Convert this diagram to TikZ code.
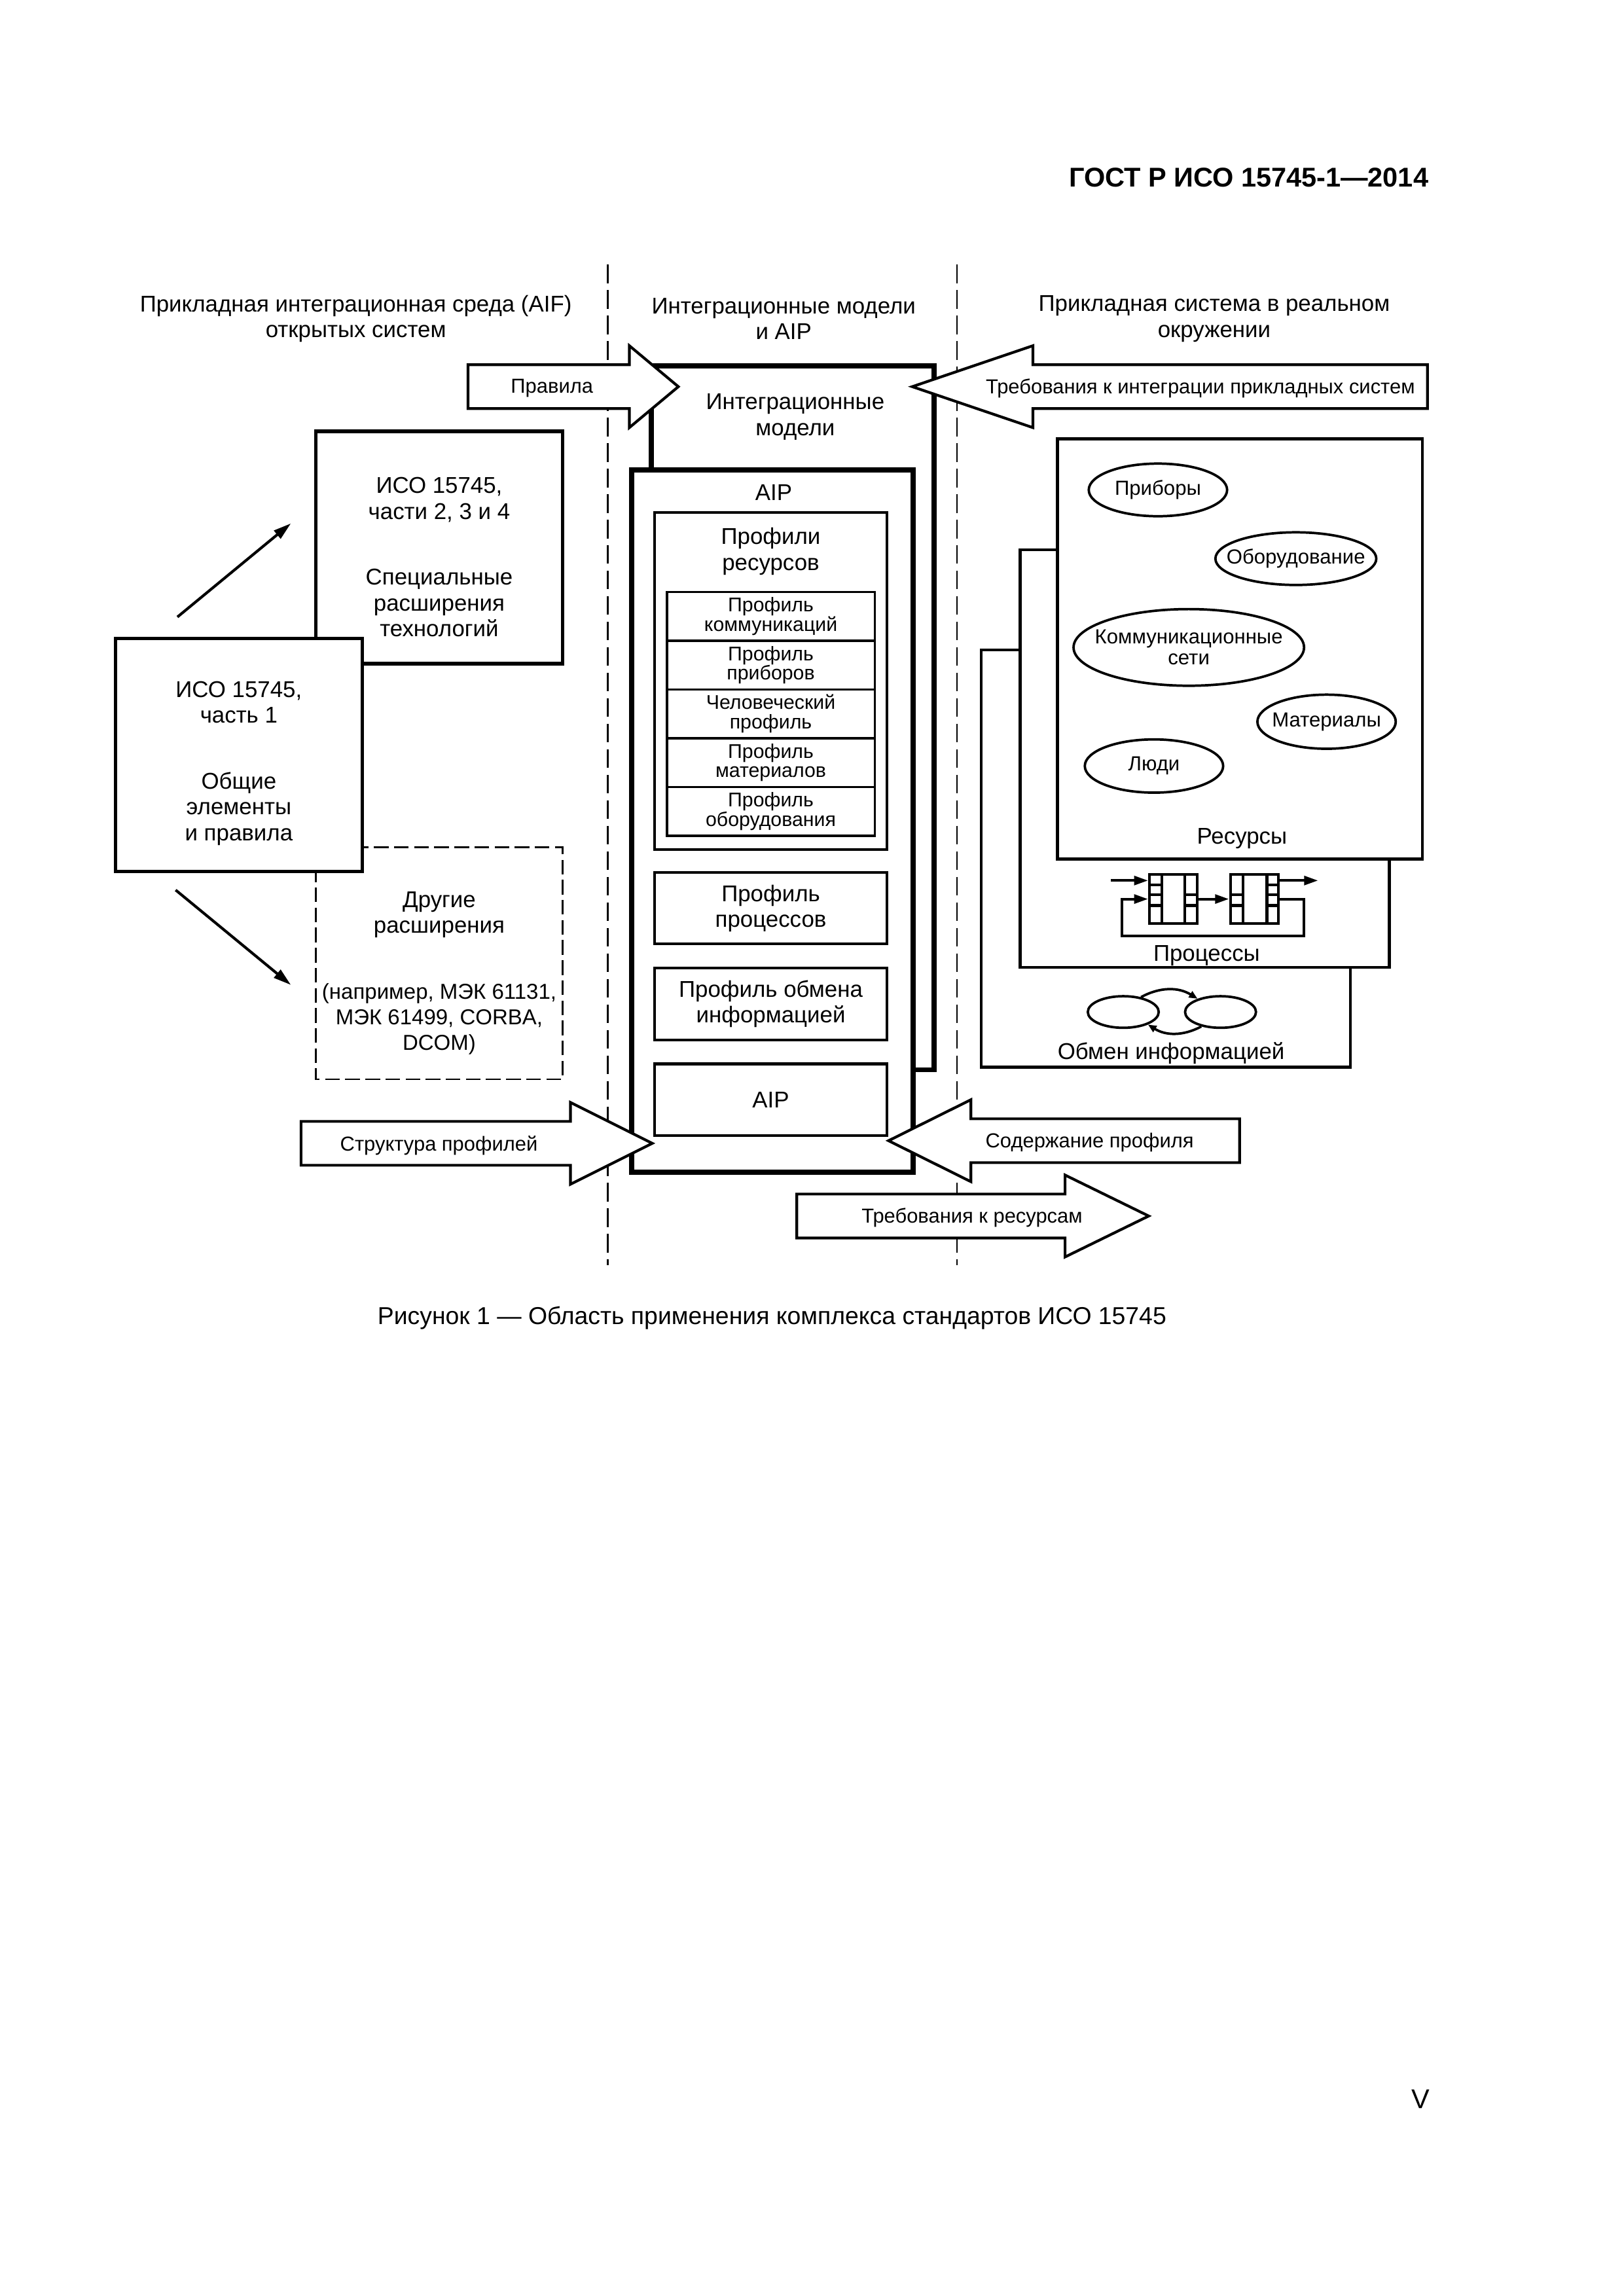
\documentclass[tikz,border=0pt]{standalone}
\usepackage{fontspec}
\setmainfont{Liberation Sans}
\usetikzlibrary{arrows.meta,shapes.geometric}
\newcommand{\ux}{0.18919mm}
\def\fatarrow(#1:#2:#3:#4){\draw[fatarr] (#1,#4-15) -- (#2,#4-15) -- (#2,#4-28) -- (#3,#4) -- (#2,#4+28) -- (#2,#4+15) -- (#1,#4+15) -- cycle;}

\begin{document}
\begin{tikzpicture}[x=\ux, y=-\ux,
		txt/.style={align=center, inner sep=0pt, font=\fontsize{8.4}{9.5}\selectfont},
		arrtxt/.style={inner sep=0pt, font=\fontsize{7.45}{9}\selectfont},
		sz/.style 2 args={minimum width=#1*\ux, minimum height=#2*\ux},
		lbox/.style={line width=1.3pt, fill=white},
		dbox/.style={line width=0.7pt, dash pattern=on 1.9mm off 0.7mm},
		thickbox/.style={line width=1.9pt, fill=white},
		pbox/.style={draw, line width=1pt, fill=white, inner sep=0pt, align=center, font=\fontsize{8.4}{9.5}\selectfont},
		cell/.style={draw, line width=0.8pt, inner sep=0pt, align=center, font=\fontsize{7.3}{7.2}\selectfont},
		rbox/.style={line width=1.1pt, fill=white},
		res/.style={draw, ellipse, line width=0.9pt, inner sep=-6pt, align=center, font=\fontsize{7.5}{7.6}\selectfont},
		blk/.style={draw, line width=1pt, inner sep=0pt, sz={32.8}{33.5}},
		fatarr/.style={line width=1pt, fill=white, line join=miter},
		diag/.style={line width=1pt, -{Triangle[length=2.3mm,width=1.3mm]}},
		parr/.style={line width=1pt, -{Triangle[length=1.8mm,width=1.15mm]}},
		xarr/.style={line width=0.9pt, -{Triangle[length=1.1mm,width=0.9mm]}},
		sep/.style={line width=0.6pt, dash pattern=on 2.4mm off 0.9mm}]
	%%%%% START %%%%%
	\useasboundingbox (0,0) rectangle (1110,1570);
	
	\node[anchor=east, inner sep=0pt, font=\bfseries\fontsize{10}{12}\selectfont] (gost) at (977,121.6) {ГОСТ Р ИСО 15745-1—2014};
	
	% column separators and headings
	\draw[sep] (415.5,181) -- (415.5,865);
	\draw[sep] (654.4,181) -- (654.4,865);
	\node[txt] (hleft) at (243.3,218) {Прикладная интеграционная среда (AIF)\\открытых систем};
	\node[txt] (hmid) at (535.8,218) {Интеграционные модели\\и AIP};
	\node[txt] (hright) at (830.2,218) {Прикладная система в реальном\\окружении};
	
	% left column
	\draw[dbox] (216,579.4) rectangle (384.6,738);
	\node[txt] (other) at (300.3,665.5) {Другие\\расширения\\[14.7pt]{\fontsize{7.95}{9.5}\selectfont(например, МЭК 61131,}\\{\fontsize{7.95}{9.5}\selectfont МЭК 61499, CORBA,}\\{\fontsize{7.95}{9.5}\selectfont DCOM)}};
	\draw[lbox] (216,295) rectangle (384.6,453.9);
	\node[txt] (spec) at (300.3,381) {ИСО 15745,\\части 2, 3 и 4\\[14.7pt]Специальные\\расширения\\технологий};
	\draw[lbox] (79,436.7) rectangle (247.6,596);
	\node[txt] (iso1) at (163.3,522) {ИСО 15745,\\часть 1\\[14.7pt]Общие\\элементы\\и правила};
	
	\coordinate (up0) at (121.3,421.9);
	\coordinate (up1) at (198.9,357.9);
	\coordinate (dn0) at (120.1,608.6);
	\coordinate (dn1) at (198.9,673.5);
	\draw[diag] (up0) -- (up1);
	\draw[diag] (dn0) -- (dn1);
	
	% middle column
	\draw[thickbox] (445.5,250) rectangle (638.5,731.5);
	\node[txt] (intmod) at (543.7,285) {Интеграционные\\модели};
	\draw[thickbox] (432,321.4) rectangle (624.5,801.5);
	\node[txt] (aiptop) at (529,337) {AIP};
	\draw[line width=1pt] (447.5,350.5) rectangle (606.5,581);
	\node[txt] (resprof) at (527,377) {Профили\\ресурсов};
	\foreach \t [count=\i from 0] in {{Профиль\\коммуникаций}, {Профиль\\приборов}, {Человеческий\\профиль}, {Профиль\\материалов}, {Профиль\\оборудования}}
		\node[cell, sz={142}{33.36}] (row\i) at (527,421.4+33.36*\i) {\t};
	\node[pbox, sz={159}{48.8}] (procp) at (527,621.1) {Профиль\\процессов};
	\node[pbox, sz={159}{49}] (exchp) at (527,686.5) {Профиль обмена\\информацией};
	\node[pbox, sz={159}{49}] (aipb) at (527,752) {AIP};
	
	% right column
	\draw[rbox] (670.9,444.5) rectangle (923.2,729.8);
	\node[res, sz={48.5}{21.6}] (xa) at (768,692) {};
	\node[res, sz={48.5}{21.6}] (xb) at (834.5,692) {};
	\draw[xarr] (xa.40) to[bend left=30] (xb.150);
	\draw[xarr] (xb.217) to[bend left=30] (xa.333);
	\node[txt] (exch) at (800.7,720.3) {Обмен информацией};
	
	\draw[rbox] (697.6,375.9) rectangle (949.9,661.5);
	\node[blk] (pb1) at (802.3,614.75) {};
	\node[blk] (pb2) at (857.6,614.75) {};
	\draw[line width=1pt] (794.5,598) -- (794.5,631.5) (810.2,598) -- (810.2,631.5)
		(785.9,605.1) -- (794.5,605.1) (785.9,611.8) -- (794.5,611.8) (785.9,619.2) -- (794.5,619.2)
		(810.2,611.8) -- (818.7,611.8) (810.2,619.2) -- (818.7,619.2);
	\draw[line width=1pt] (849.7,598) -- (849.7,631.5) (866.2,598) -- (866.2,631.5)
		(840.8,611.8) -- (849.7,611.8) (840.8,619.2) -- (849.7,619.2)
		(866.2,605.1) -- (874.4,605.1) (866.2,611.8) -- (874.4,611.8) (866.2,619.2) -- (874.4,619.2);
	\coordinate (pin) at (759.5,602.1);
	\coordinate (pout) at (901.2,602.1);
	\coordinate (loopr) at (891.5,640.1);
	\coordinate (loopl) at (767.2,614.75);
	\draw[parr] (pin) -- (pin -| pb1.west);
	\draw[parr] (pb1.east) -- (pb2.west);
	\draw[parr] (pb2.east) -| (loopr) -| (loopl) -- (pb1.west);
	\draw[parr] (pout -| pb2.east) -- (pout);
	\node[txt] (procs) at (825,653.4) {Процессы};
	
	\draw[rbox] (723,300) rectangle (972.5,587.5);
	\node[res, sz={94.6}{36}] (dev) at (791.7,335) {Приборы};
	\node[res, sz={110}{36}] (equip) at (886,382) {Оборудование};
	\node[res, sz={157.6}{52.4}] (comm) at (812.8,442.7) {Коммуникационные\\сети};
	\node[res, sz={94.6}{37}] (matl) at (907,493.5) {Материалы};
	\node[res, sz={94.6}{36.4}] (ppl) at (789,523.8) {Люди};
	\node[txt] (resrc) at (849.2,573.5) {Ресурсы};
	
	% block arrows
	\fatarrow(320:430.3:463.8:264.4)
	\node[arrtxt] (rules) at (377.4,265.6) {Правила};
	\fatarrow(976:706.2:623.7:264.4)
	\node[arrtxt] (reqint) at (820.7,265.6) {Требования к интеграции прикладных систем};
	\fatarrow(205.8:390:446:781.8)
	\node[arrtxt] (struct) at (300.1,783.2) {Структура профилей};
	\fatarrow(847.5:663.8:607.5:780)
	\node[arrtxt] (content) at (745,781.2) {Содержание профиля};
	\fatarrow(544.8:728.2:785.4:831.5)
	\node[arrtxt] (reqres) at (664.6,832.7) {Требования к ресурсам};
	
	\node[inner sep=0pt, font=\fontsize{9}{11}\selectfont] (capt) at (527.8,901) {Рисунок 1 — Область применения комплекса стандартов ИСО 15745};
	\node[anchor=east, inner sep=0pt, font=\fontsize{10}{12}\selectfont] (pgno) at (978,1435.5) {V};
	%%%%% END %%%%%
\end{tikzpicture}
\end{document}
